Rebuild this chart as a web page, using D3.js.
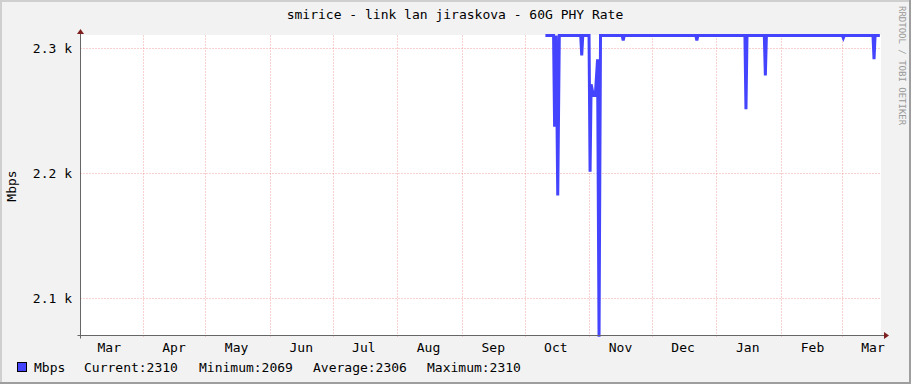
<!DOCTYPE html>
<html>
<head>
<meta charset="utf-8">
<title>smirice - link lan jiraskova - 60G PHY Rate</title>
<script src="https://cdn.jsdelivr.net/npm/d3@7"></script>
<style>
body { margin: 0; background: #f2f2f2; }
svg text { font-family: "DejaVu Sans Mono", monospace; fill: #000; }
</style>
</head>
<body>
<svg id="chart" width="911" height="384"></svg>
<script>
// values (UTC timestamps, Mbps)
var pointTimes = [
  "2023-10-11T00:00", "2023-10-14T22:00", "2023-10-15T10:00", "2023-10-16T04:00",
  "2023-10-16T22:00", "2023-10-17T16:00", "2023-10-27T22:00", "2023-10-28T10:00",
  "2023-10-28T22:00", "2023-10-31T22:00", "2023-11-01T10:00", "2023-11-01T22:00",
  "2023-11-03T00:00", "2023-11-03T22:00", "2023-11-05T00:00", "2023-11-05T17:00",
  "2023-11-06T10:00", "2023-11-16T19:00", "2023-11-17T07:00", "2023-11-17T19:00",
  "2023-12-22T02:00", "2023-12-22T14:00", "2023-12-23T02:00", "2024-01-14T15:00",
  "2024-01-15T03:00", "2024-01-15T15:00", "2024-01-23T22:00", "2024-01-24T10:00",
  "2024-01-24T22:00", "2024-03-01T07:00", "2024-03-01T19:00", "2024-03-02T07:00",
  "2024-03-16T00:00", "2024-03-16T12:00", "2024-03-17T00:00", "2024-03-19T07:00"
];
var pointValues = [
  2310, 2310, 2237, 2310,
  2182, 2310, 2310, 2294,
  2310, 2310, 2201, 2271,
  2262, 2262, 2291, 2069,
  2310, 2310, 2306, 2310,
  2310, 2306, 2310, 2310,
  2251, 2310, 2310, 2278,
  2310, 2310, 2308, 2310,
  2310, 2291, 2310, 2310
];
var yTicks = [2100, 2200, 2300];
var monthNames = ["Jan", "Feb", "Mar", "Apr", "May", "Jun", "Jul", "Aug", "Sep", "Oct", "Nov", "Dec"];
var legendLabels = ["Current:2310", "Minimum:2069", "Average:2306", "Maximum:2310"];
var timeRange = ["2023-03-02T04:48", "2024-03-19T14:24"];
var valueRange = [2070, 2310];

function utc(s) { return new Date(s + ":00Z"); }

var svg = d3.select("#chart");
var W = 911, H = 384;
var plotL = 80.5, plotR = 880.5, plotT = 35.5, plotB = 335.5;

var x = d3.scaleUtc().domain(timeRange.map(utc)).range([plotL, plotR]);
var y = d3.scaleLinear().domain(valueRange).range([plotB, plotT]);

// frame
svg.append("rect").attr("width", W).attr("height", H).attr("fill", "#f2f2f2");
svg.append("path").attr("d", "M0,1H910M1,0V383").attr("stroke", "#cfcfcf").attr("stroke-width", 2);
svg.append("path").attr("d", "M910,0V384M0,383H911").attr("stroke", "#9e9e9e").attr("stroke-width", 2);

// canvas
svg.append("rect").attr("x", 81).attr("y", 35).attr("width", 800).attr("height", 300).attr("fill", "#fff");

var gridColor = "rgba(230,90,90,0.55)";

// horizontal grid
svg.append("g").selectAll("line").data(yTicks).join("line")
  .attr("x1", plotL).attr("x2", plotR)
  .attr("y1", function(d){ return Math.round(y(d)) + 0.5; })
  .attr("y2", function(d){ return Math.round(y(d)) + 0.5; })
  .attr("stroke", gridColor).attr("stroke-dasharray", "1,2");

svg.append("g").selectAll("text").data(yTicks).join("text")
  .attr("x", 72).attr("y", function(d){ return y(d) + 4.5; })
  .attr("text-anchor", "end").style("font-size", "13px")
  .text(function(d){ return (d / 1000).toFixed(1) + " k"; });

// vertical month grid
var months = d3.utcMonth.range(x.domain()[0], x.domain()[1]);
svg.append("g").selectAll("line").data(months).join("line")
  .attr("x1", function(d){ return Math.round(x(d)) + 0.5; })
  .attr("x2", function(d){ return Math.round(x(d)) + 0.5; })
  .attr("y1", plotT).attr("y2", plotB + 3)
  .attr("stroke", gridColor).attr("stroke-dasharray", "1,2");

// month labels at mid-month
var labelMonths = d3.utcMonth.range(d3.utcMonth.floor(x.domain()[0]), x.domain()[1]);
svg.append("g").selectAll("text").data(labelMonths).join("text")
  .attr("x", function(d){ return x(d3.utcDay.offset(d, 15)); })
  .attr("y", 352)
  .attr("text-anchor", "middle").style("font-size", "13px")
  .text(function(d){ return monthNames[d.getUTCMonth()]; });

// data line
var data = pointTimes.map(function(t, i){ return { t: utc(t), v: pointValues[i] }; });
var line = d3.line().x(function(d){ return x(d.t); }).y(function(d){ return y(d.v); });
svg.append("path").datum(data).attr("d", line)
  .attr("fill", "none").attr("stroke", "#4444ff").attr("stroke-width", 3)
  .attr("stroke-linejoin", "miter");

// axes
svg.append("path").attr("d", "M" + plotL + "," + (plotT - 3) + "V" + (plotB + 3))
  .attr("stroke", "#666").attr("fill", "none");
svg.append("path").attr("d", "M" + (plotL - 3) + "," + plotB + "H" + (plotR + 4))
  .attr("stroke", "#666").attr("fill", "none");
svg.append("path").attr("d", "M77,34L84,34L80.5,29Z").attr("fill", "#7f1f1f");
svg.append("path").attr("d", "M884,332L884,339L889,335.5Z").attr("fill", "#7f1f1f");

// title and axis label
svg.append("text").attr("x", 455).attr("y", 19).attr("text-anchor", "middle")
  .style("font-size", "13px").text("smirice - link lan jiraskova - 60G PHY Rate");
svg.append("text").attr("transform", "translate(16,186) rotate(-90)")
  .attr("text-anchor", "middle").style("font-size", "13px").text("Mbps");

// watermark
svg.append("text").attr("transform", "translate(899,6) rotate(90)")
  .style("font-size", "9px").style("fill", "#999").text("RRDTOOL / TOBI OETIKER");

// legend
svg.append("rect").attr("x", 17.5).attr("y", 362.5).attr("width", 9).attr("height", 9)
  .attr("fill", "#4444ff").attr("stroke", "#000");
svg.append("text").attr("x", 34).attr("y", 372).style("font-size", "13px").text("Mbps");
var legendX = [84, 199, 313, 427];
svg.append("g").selectAll("text").data(legendLabels).join("text")
  .attr("x", function(d, i){ return legendX[i]; }).attr("y", 372)
  .style("font-size", "13px").text(function(d){ return d; });
</script>
</body>
</html>
